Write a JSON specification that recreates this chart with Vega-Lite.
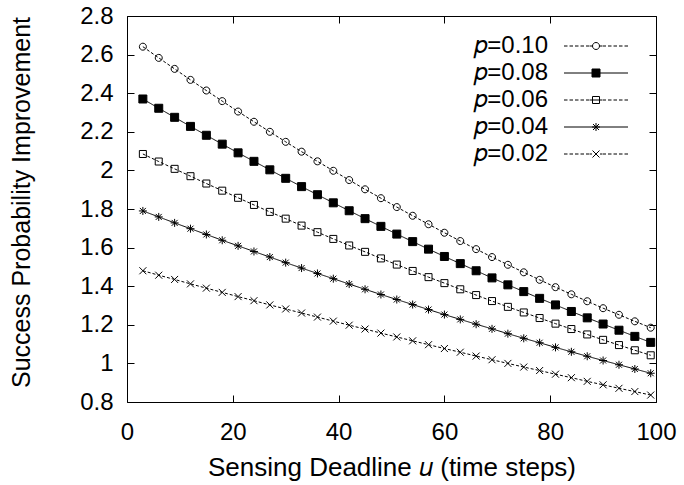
{
"$schema": "https://vega.github.io/schema/vega-lite/v6.json",
"width": 529, "height": 386,
"autosize": {"type": "none"},
"padding": {"left": 127, "top": 16, "right": 28, "bottom": 83},
"background": "white",
"config": {
  "view": {"stroke": "black", "strokeWidth": 1},
  "font": "Liberation Sans",
  "axis": {"grid": false, "domain": false, "tickColor": "black", "tickSize": -7, "tickWidth": 1, "labelFlush": false, "labelOverlap": false, "labelColor": "black", "labelFont": "Liberation Sans", "labelFontSize": 24, "titleFont": "Liberation Sans", "titleFontSize": 26, "titleFontWeight": "normal", "titleColor": "black"}
},
"datasets": {"main": [
{"u":3,"s":"0.10","v":2.641},{"u":6,"s":"0.10","v":2.583},{"u":9,"s":"0.10","v":2.526},{"u":12,"s":"0.10","v":2.469},{"u":15,"s":"0.10","v":2.414},{"u":18,"s":"0.10","v":2.359},{"u":21,"s":"0.10","v":2.305},{"u":24,"s":"0.10","v":2.252},{"u":27,"s":"0.10","v":2.200},{"u":30,"s":"0.10","v":2.148},{"u":33,"s":"0.10","v":2.097},{"u":36,"s":"0.10","v":2.047},{"u":39,"s":"0.10","v":1.998},{"u":42,"s":"0.10","v":1.950},{"u":45,"s":"0.10","v":1.902},{"u":48,"s":"0.10","v":1.856},{"u":51,"s":"0.10","v":1.810},{"u":54,"s":"0.10","v":1.765},{"u":57,"s":"0.10","v":1.721},{"u":60,"s":"0.10","v":1.677},{"u":63,"s":"0.10","v":1.634},{"u":66,"s":"0.10","v":1.592},{"u":69,"s":"0.10","v":1.551},{"u":72,"s":"0.10","v":1.511},{"u":75,"s":"0.10","v":1.472},{"u":78,"s":"0.10","v":1.433},{"u":81,"s":"0.10","v":1.395},{"u":84,"s":"0.10","v":1.358},{"u":87,"s":"0.10","v":1.322},{"u":90,"s":"0.10","v":1.286},{"u":93,"s":"0.10","v":1.252},{"u":96,"s":"0.10","v":1.218},{"u":99,"s":"0.10","v":1.185},
{"u":3,"s":"0.08","v":2.370},{"u":6,"s":"0.08","v":2.322},{"u":9,"s":"0.08","v":2.275},{"u":12,"s":"0.08","v":2.228},{"u":15,"s":"0.08","v":2.182},{"u":18,"s":"0.08","v":2.136},{"u":21,"s":"0.08","v":2.091},{"u":24,"s":"0.08","v":2.047},{"u":27,"s":"0.08","v":2.003},{"u":30,"s":"0.08","v":1.959},{"u":33,"s":"0.08","v":1.916},{"u":36,"s":"0.08","v":1.874},{"u":39,"s":"0.08","v":1.832},{"u":42,"s":"0.08","v":1.791},{"u":45,"s":"0.08","v":1.750},{"u":48,"s":"0.08","v":1.710},{"u":51,"s":"0.08","v":1.670},{"u":54,"s":"0.08","v":1.631},{"u":57,"s":"0.08","v":1.592},{"u":60,"s":"0.08","v":1.554},{"u":63,"s":"0.08","v":1.517},{"u":66,"s":"0.08","v":1.480},{"u":69,"s":"0.08","v":1.443},{"u":72,"s":"0.08","v":1.407},{"u":75,"s":"0.08","v":1.372},{"u":78,"s":"0.08","v":1.337},{"u":81,"s":"0.08","v":1.303},{"u":84,"s":"0.08","v":1.269},{"u":87,"s":"0.08","v":1.236},{"u":90,"s":"0.08","v":1.204},{"u":93,"s":"0.08","v":1.172},{"u":96,"s":"0.08","v":1.140},{"u":99,"s":"0.08","v":1.109},
{"u":3,"s":"0.06","v":2.085},{"u":6,"s":"0.06","v":2.046},{"u":9,"s":"0.06","v":2.008},{"u":12,"s":"0.06","v":1.970},{"u":15,"s":"0.06","v":1.932},{"u":18,"s":"0.06","v":1.895},{"u":21,"s":"0.06","v":1.858},{"u":24,"s":"0.06","v":1.821},{"u":27,"s":"0.06","v":1.785},{"u":30,"s":"0.06","v":1.750},{"u":33,"s":"0.06","v":1.714},{"u":36,"s":"0.06","v":1.680},{"u":39,"s":"0.06","v":1.645},{"u":42,"s":"0.06","v":1.611},{"u":45,"s":"0.06","v":1.578},{"u":48,"s":"0.06","v":1.544},{"u":51,"s":"0.06","v":1.512},{"u":54,"s":"0.06","v":1.479},{"u":57,"s":"0.06","v":1.447},{"u":60,"s":"0.06","v":1.416},{"u":63,"s":"0.06","v":1.384},{"u":66,"s":"0.06","v":1.354},{"u":69,"s":"0.06","v":1.323},{"u":72,"s":"0.06","v":1.293},{"u":75,"s":"0.06","v":1.264},{"u":78,"s":"0.06","v":1.235},{"u":81,"s":"0.06","v":1.206},{"u":84,"s":"0.06","v":1.178},{"u":87,"s":"0.06","v":1.150},{"u":90,"s":"0.06","v":1.122},{"u":93,"s":"0.06","v":1.095},{"u":96,"s":"0.06","v":1.068},{"u":99,"s":"0.06","v":1.042},
{"u":3,"s":"0.04","v":1.790},{"u":6,"s":"0.04","v":1.759},{"u":9,"s":"0.04","v":1.728},{"u":12,"s":"0.04","v":1.698},{"u":15,"s":"0.04","v":1.668},{"u":18,"s":"0.04","v":1.638},{"u":21,"s":"0.04","v":1.609},{"u":24,"s":"0.04","v":1.580},{"u":27,"s":"0.04","v":1.551},{"u":30,"s":"0.04","v":1.522},{"u":33,"s":"0.04","v":1.494},{"u":36,"s":"0.04","v":1.466},{"u":39,"s":"0.04","v":1.439},{"u":42,"s":"0.04","v":1.411},{"u":45,"s":"0.04","v":1.384},{"u":48,"s":"0.04","v":1.357},{"u":51,"s":"0.04","v":1.331},{"u":54,"s":"0.04","v":1.305},{"u":57,"s":"0.04","v":1.279},{"u":60,"s":"0.04","v":1.253},{"u":63,"s":"0.04","v":1.228},{"u":66,"s":"0.04","v":1.203},{"u":69,"s":"0.04","v":1.179},{"u":72,"s":"0.04","v":1.154},{"u":75,"s":"0.04","v":1.130},{"u":78,"s":"0.04","v":1.107},{"u":81,"s":"0.04","v":1.083},{"u":84,"s":"0.04","v":1.060},{"u":87,"s":"0.04","v":1.037},{"u":90,"s":"0.04","v":1.015},{"u":93,"s":"0.04","v":0.993},{"u":96,"s":"0.04","v":0.971},{"u":99,"s":"0.04","v":0.949},
{"u":3,"s":"0.02","v":1.480},{"u":6,"s":"0.02","v":1.457},{"u":9,"s":"0.02","v":1.435},{"u":12,"s":"0.02","v":1.412},{"u":15,"s":"0.02","v":1.390},{"u":18,"s":"0.02","v":1.368},{"u":21,"s":"0.02","v":1.346},{"u":24,"s":"0.02","v":1.325},{"u":27,"s":"0.02","v":1.303},{"u":30,"s":"0.02","v":1.282},{"u":33,"s":"0.02","v":1.261},{"u":36,"s":"0.02","v":1.240},{"u":39,"s":"0.02","v":1.219},{"u":42,"s":"0.02","v":1.198},{"u":45,"s":"0.02","v":1.178},{"u":48,"s":"0.02","v":1.157},{"u":51,"s":"0.02","v":1.137},{"u":54,"s":"0.02","v":1.117},{"u":57,"s":"0.02","v":1.097},{"u":60,"s":"0.02","v":1.077},{"u":63,"s":"0.02","v":1.058},{"u":66,"s":"0.02","v":1.038},{"u":69,"s":"0.02","v":1.019},{"u":72,"s":"0.02","v":1.000},{"u":75,"s":"0.02","v":0.981},{"u":78,"s":"0.02","v":0.963},{"u":81,"s":"0.02","v":0.944},{"u":84,"s":"0.02","v":0.926},{"u":87,"s":"0.02","v":0.907},{"u":90,"s":"0.02","v":0.889},{"u":93,"s":"0.02","v":0.871},{"u":96,"s":"0.02","v":0.854},{"u":99,"s":"0.02","v":0.836}
]},
"data": {"name": "main"},
"layer": [
  {
    "mark": {"type": "line", "strokeWidth": 1, "color": "black"},
    "encoding": {
      "x": {"field": "u", "type": "quantitative", "scale": {"domain": [0, 100], "nice": false},
            "axis": {"orient": "bottom", "values": [0, 20, 40, 60, 80, 100], "title": "Sensing Deadline 𝑢 (time steps)", "labelPadding": 25, "titlePadding": 10}},
      "y": {"field": "v", "type": "quantitative", "scale": {"domain": [0.8, 2.8], "nice": false, "zero": false},
            "axis": {"orient": "left", "values": [0.8, 1, 1.2, 1.4, 1.6, 1.8, 2, 2.2, 2.4, 2.6, 2.8], "format": "~g", "title": "Success Probability Improvement", "titleFontSize": 25, "titleY": 186, "labelPadding": 21, "titlePadding": 45}},
      "strokeDash": {"field": "s", "type": "nominal", "scale": {"domain": ["0.10", "0.08", "0.06", "0.04", "0.02"], "range": [[3, 2], [1, 0], [3, 2], [1, 0], [3, 2]]}, "legend": null}
    }
  },
  {
    "mark": {"type": "point", "strokeWidth": 1, "stroke": "black", "size": 100, "opacity": 1},
    "encoding": {
      "x": {"field": "u", "type": "quantitative", "axis": null},
      "y": {"field": "v", "type": "quantitative", "axis": null},
      "shape": {"field": "s", "type": "nominal", "scale": {"domain": ["0.10", "0.08", "0.06", "0.04", "0.02"], "range": [
        "M0.7,0A0.7,0.7,0,1,1,-0.7,0A0.7,0.7,0,1,1,0.7,0Z",
        "M-0.8,-0.8H0.8V0.8H-0.8Z",
        "M-0.7,-0.7H0.7V0.7H-0.7Z",
        "M-0.8,0H0.8M0,-0.8V0.8M-0.6,-0.6L0.6,0.6M-0.6,0.6L0.6,-0.6",
        "M-0.7,-0.7L0.7,0.7M-0.7,0.7L0.7,-0.7"]}, "legend": null},
      "fill": {"condition": {"test": "datum.s === '0.08'", "value": "black"}, "value": "transparent"}
    }
  },
  {
    "mark": {"type": "point", "strokeWidth": 1, "stroke": "black", "opacity": 0},
    "encoding": {
      "x": {"field": "u", "type": "quantitative", "axis": null},
      "y": {"field": "v", "type": "quantitative", "axis": null},
      "shape": {"field": "s", "type": "nominal", "scale": {"domain": ["0.10", "0.08", "0.06", "0.04", "0.02"], "range": [
        "M-3.2,0H-2.85M-2.65,0H-2.3M-2.1,0H-1.75M-1.55,0H-1.2M-1.0,0H-0.65M0.65,0H1.0M1.2,0H1.55M1.75,0H2.1M2.3,0H2.65M2.85,0H3.2M-0.6,0H-0.35M0.35,0H0.6M0.35,0A0.35,0.35,0,1,1,-0.35,0A0.35,0.35,0,1,1,0.35,0Z",
        "M-3.2,0H3.2M-0.4,-0.4H0.4V0.4H-0.4ZM-0.4,-0.35H0.4M-0.4,-0.3H0.4M-0.4,-0.25H0.4M-0.4,-0.2H0.4M-0.4,-0.15H0.4M-0.4,-0.1H0.4M-0.4,-0.05H0.4M-0.4,0.05H0.4M-0.4,0.1H0.4M-0.4,0.15H0.4M-0.4,0.2H0.4M-0.4,0.25H0.4M-0.4,0.3H0.4M-0.4,0.35H0.4",
        "M-3.2,0H-2.85M-2.65,0H-2.3M-2.1,0H-1.75M-1.55,0H-1.2M-1.0,0H-0.65M0.65,0H1.0M1.2,0H1.55M1.75,0H2.1M2.3,0H2.65M2.85,0H3.2M-0.6,0H0.6M-0.35,-0.35H0.35V0.35H-0.35Z",
        "M-3.2,0H3.2M-0.4,0H0.4M0,-0.4V0.4M-0.3,-0.3L0.3,0.3M-0.3,0.3L0.3,-0.3",
        "M-3.2,0H-2.85M-2.65,0H-2.3M-2.1,0H-1.75M-1.55,0H-1.2M-1.0,0H-0.65M0.65,0H1.0M1.2,0H1.55M1.75,0H2.1M2.3,0H2.65M2.85,0H3.2M-0.6,0H-0.4M0.4,0H0.6M-0.35,-0.35L0.35,0.35M-0.35,0.35L0.35,-0.35"]},
        "legend": {"title": null, "orient": "none", "legendX": 457, "legendY": 18, "padding": 0, "symbolSize": 400, "symbolOpacity": 1, "symbolStrokeColor": "black", "symbolStrokeWidth": 1, "symbolFillColor": "transparent", "labelAlign": "right", "labelOffset": -60, "labelFont": "Liberation Sans", "labelFontSize": 24, "labelColor": "black", "labelBaseline": "middle", "rowPadding": 3, "labelExpr": "'𝑝=' + datum.label", "labelLimit": 0,
          "encode": {"symbols": {"stroke": {"value": "black"}, "strokeWidth": {"value": 1}, "opacity": {"value": 1}}}}}
    }
  },
  {
    "mark": {"type": "point", "opacity": 0},
    "encoding": {
      "x": {"field": "u", "type": "quantitative", "axis": {"orient": "top", "values": [0, 20, 40, 60, 80, 100], "labels": false, "title": null}},
      "y": {"field": "v", "type": "quantitative", "axis": {"orient": "right", "values": [0.8, 1, 1.2, 1.4, 1.6, 1.8, 2, 2.2, 2.4, 2.6, 2.8], "labels": false, "title": null}}
    }
  }
],
"resolve": {"scale": {"shape": "independent"}, "axis": {"x": "independent", "y": "independent"}}
}
